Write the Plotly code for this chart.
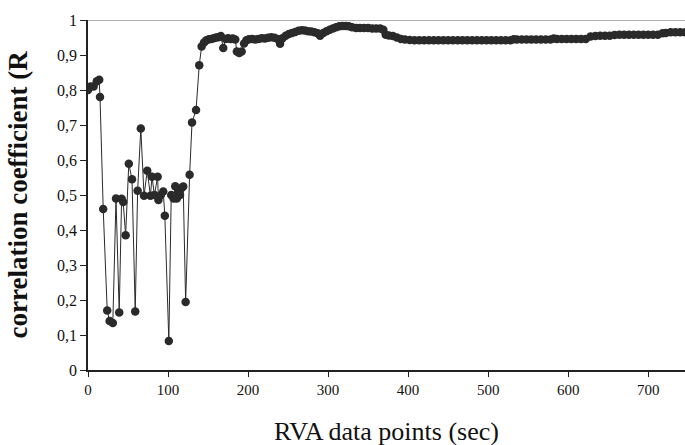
import plotly.graph_objects as go

# Early (volatile) part of the series
early_x = [0, 3, 7, 11, 14, 15, 19, 24, 27, 31, 35, 39, 42, 44, 47, 51, 55, 59, 62, 66,
           70, 74, 78, 80, 83, 87, 88, 91, 94, 96, 101, 104, 107, 109, 111, 113, 115, 117,
           119, 122, 127, 130, 135, 139]
early_y = [0.80, 0.81, 0.81, 0.825, 0.829, 0.78, 0.46, 0.17, 0.14, 0.134, 0.49, 0.164,
           0.489, 0.48, 0.385, 0.589, 0.545, 0.167, 0.512, 0.69, 0.498, 0.569, 0.498,
           0.552, 0.50, 0.552, 0.486, 0.50, 0.51, 0.441, 0.083, 0.50, 0.49, 0.525, 0.49,
           0.51, 0.50, 0.52, 0.524, 0.194, 0.558, 0.707, 0.743, 0.871]

# Plateau part of the series
plateau_x = [142, 145, 148, 151, 154, 157, 160, 163, 166, 169, 172, 175, 178, 181, 184,
             186, 189, 192, 195, 198, 201, 205, 209, 213, 217, 221, 225, 229, 233, 237,
             240, 243, 247, 251, 255, 259, 263, 267, 271, 275, 279, 283, 287, 290, 294,
             298, 302, 306, 310, 314, 318, 322, 326, 330, 335, 340, 345, 350, 355, 360,
             365, 369, 372, 376, 381, 386, 391, 396, 402, 408, 414, 420, 426, 432, 438,
             444, 450, 456, 462, 468, 474, 480, 486, 492, 498, 504, 510, 516, 522, 528,
             532, 536, 542, 548, 554, 560, 566, 572, 578, 582, 586, 592, 598, 604, 610,
             616, 622, 628, 634, 640, 646, 652, 658, 664, 670, 676, 682, 688, 694, 700,
             706, 712, 718, 722, 728, 734, 740, 746]
plateau_y = [0.924, 0.936, 0.942, 0.945, 0.946, 0.948, 0.950, 0.951, 0.954, 0.920, 0.946,
             0.948, 0.946, 0.947, 0.944, 0.910, 0.906, 0.910, 0.933, 0.942, 0.945, 0.946,
             0.944, 0.946, 0.948, 0.947, 0.949, 0.951, 0.949, 0.946, 0.932, 0.948, 0.955,
             0.960, 0.963, 0.966, 0.969, 0.971, 0.970, 0.968, 0.967, 0.965, 0.962, 0.955,
             0.963, 0.968, 0.972, 0.976, 0.979, 0.982, 0.983, 0.983, 0.982, 0.979, 0.977,
             0.977, 0.977, 0.977, 0.976, 0.976, 0.976, 0.972, 0.958, 0.956, 0.954, 0.950,
             0.946, 0.944, 0.943, 0.942, 0.942, 0.942, 0.942, 0.942, 0.942, 0.942, 0.942,
             0.942, 0.942, 0.942, 0.942, 0.942, 0.942, 0.942, 0.942, 0.942, 0.942, 0.942,
             0.942, 0.942, 0.945, 0.944, 0.944, 0.944, 0.944, 0.944, 0.944, 0.944, 0.944,
             0.947, 0.946, 0.946, 0.946, 0.946, 0.946, 0.946, 0.946, 0.953, 0.954, 0.955,
             0.955, 0.955, 0.957, 0.958, 0.958, 0.958, 0.958, 0.958, 0.958, 0.958, 0.958,
             0.958, 0.962, 0.963, 0.965, 0.965, 0.965, 0.965]

x_vals = early_x + plateau_x
y_vals = early_y + plateau_y

y_tickvals = [0, 0.1, 0.2, 0.3, 0.4, 0.5, 0.6, 0.7, 0.8, 0.9, 1]
y_ticktext = ["0", "0,1", "0,2", "0,3", "0,4", "0,5", "0,6", "0,7", "0,8", "0,9", "1"]
x_tickvals = [0, 100, 200, 300, 400, 500, 600, 700]
x_ticktext = ["0", "100", "200", "300", "400", "500", "600", "700"]

FONT = "Liberation Serif"

fig = go.Figure()
fig.add_trace(go.Scatter(
    x=x_vals, y=y_vals, mode="lines+markers",
    line=dict(color="#2a2a2a", width=1),
    marker=dict(color="#2a2a2a", size=8.5),
    showlegend=False,
))

fig.update_layout(
    width=685, height=445,
    margin=dict(l=88, r=0, t=20, b=75),
    paper_bgcolor="white", plot_bgcolor="white",
    font=dict(family=FONT, color="#111", size=14),
    xaxis=dict(range=[0, 746], showgrid=False, zeroline=False,
               showline=True, linecolor="#222", linewidth=1.5,
               ticks="outside", ticklen=5, tickcolor="#222",
               tickvals=x_tickvals, ticktext=x_ticktext,
               tickfont=dict(family="Times New Roman", size=15, color="#111")),
    yaxis=dict(range=[0, 1], showgrid=False, zeroline=False,
               showline=True, linecolor="#222", linewidth=1.5,
               ticks="outside", ticklen=6, tickcolor="#222",
               tickvals=y_tickvals, ticktext=y_ticktext,
               tickfont=dict(family="Times New Roman", size=16, color="#111")),
    shapes=[dict(type="line", xref="paper", yref="y", x0=0, x1=1, y0=1, y1=1,
                 line=dict(color="#999", width=1.5))],
    annotations=[
        dict(text="<b>correlation coefficient (R</b>", xref="paper", yref="paper",
             x=-0.118, y=0.5, xanchor="center", yanchor="middle", textangle=-90,
             showarrow=False, font=dict(family=FONT, size=27, color="#111")),
        dict(text="RVA data points (sec)", xref="paper", yref="paper",
             x=0.5, y=-0.177, xanchor="center", yanchor="middle",
             showarrow=False, font=dict(family=FONT, size=26, color="#111")),
    ],
)

fig.write_html("out.html")
